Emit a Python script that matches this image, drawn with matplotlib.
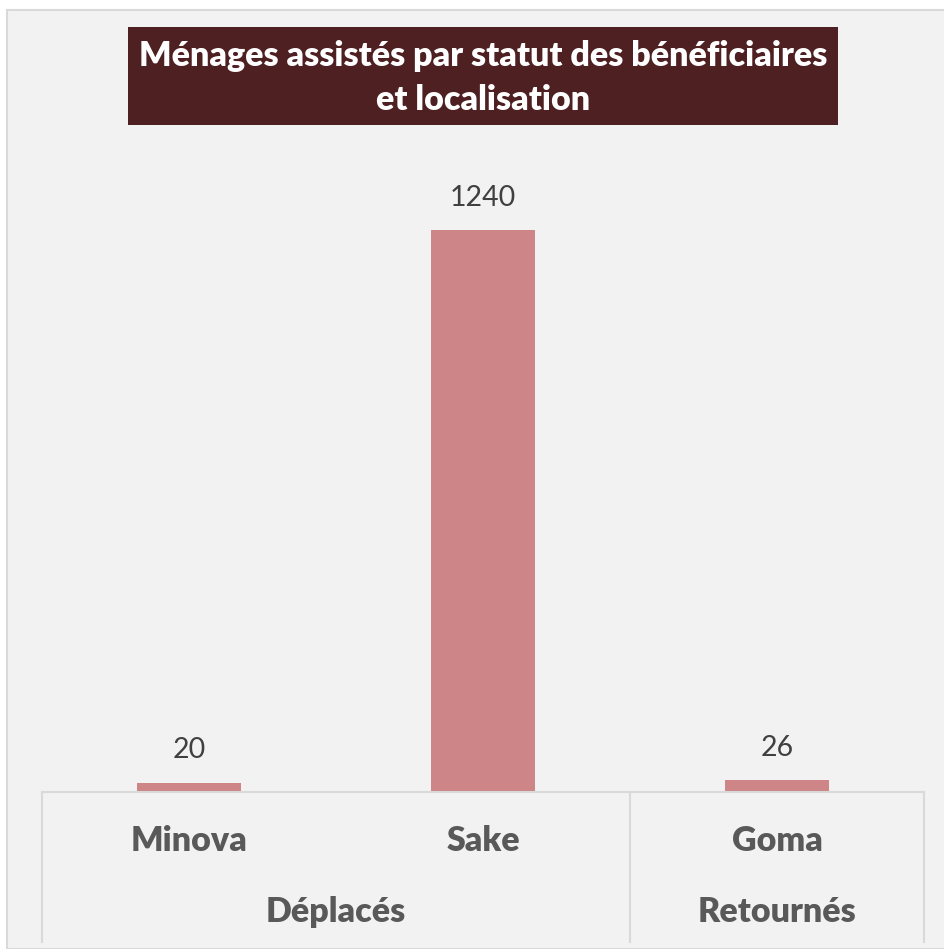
import matplotlib.pyplot as plt
from matplotlib.patches import Rectangle
from matplotlib.lines import Line2D

# Data
villes = ['Minova', 'Sake', 'Goma']
menages = [20, 1240, 26]
groupes = ['Déplacés', 'Retournés']
groupe_centres = [0.5, 2]

plt.rcParams['font.family'] = ['Lato', 'DejaVu Sans']

W, H = 944, 949
fig = plt.figure(figsize=(W / 100, H / 100), dpi=100)
fig.patch.set_facecolor('white')

# chart area background
fig.patches.append(Rectangle((7 / W, 0), 1, 1 - 10 / H, transform=fig.transFigure,
                             facecolor='#f2f2f2', edgecolor='#d9d9d9', linewidth=1.5,
                             zorder=-5))

# plot area
ax = fig.add_axes([42 / W, (H - 792) / H, 882 / W, (792 - 158) / H])
ax.set_facecolor('none')
ax.bar(range(len(villes)), menages, width=0.357, color='#cd8587')
ax.set_xlim(-0.5, 2.5)
ax.set_ylim(0, 1400)
for s in ['top', 'right', 'left']:
    ax.spines[s].set_visible(False)
ax.spines['bottom'].set_color('#d9d9d9')
ax.spines['bottom'].set_linewidth(1.5)
ax.set_yticks([])
ax.set_xticks([])

# value labels
for i, v in enumerate(menages):
    ax.annotate(str(v), (i, v), xytext=(0, 14), textcoords='offset points',
                ha='center', va='bottom', fontsize=20.5, color='#404040')

# category labels and group labels
tr = ax.get_xaxis_transform()
for i, v in enumerate(villes):
    ax.text(i, -0.078, v, transform=tr, ha='center', va='center',
            fontsize=24.5, fontweight='heavy', color='#595959')
for c, g in zip(groupe_centres, groupes):
    ax.text(c, -0.19, g, transform=tr, ha='center', va='center',
            fontsize=24.5, fontweight='heavy', color='#595959')

# divider lines under the axis
for x in [-0.5, 1.5, 2.5]:
    ax.add_line(Line2D([x, x], [0, -0.237], transform=tr, color='#d9d9d9',
                       linewidth=1.5, clip_on=False))

# title box
fig.patches.append(Rectangle((128 / W, 1 - 125 / H), 710 / W, 98 / H,
                             transform=fig.transFigure, facecolor='#4f2022',
                             edgecolor='none'))
fig.text(483 / W, 1 - 78 / H, 'Ménages assistés par statut des bénéficiaires\net localisation',
         ha='center', va='center', fontsize=24.5, fontweight='heavy', color='white',
         linespacing=1.5)

plt.savefig('out.png', dpi=100)
